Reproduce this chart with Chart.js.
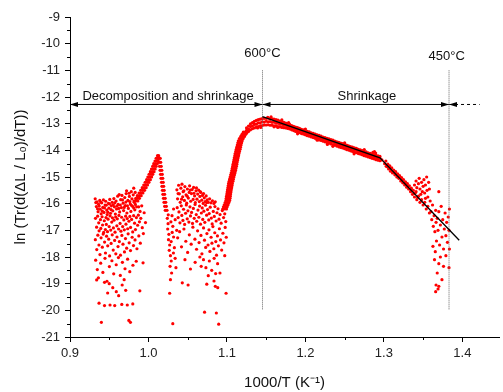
<!DOCTYPE html>
<html>
<head>
<meta charset="utf-8">
<script src="https://cdn.jsdelivr.net/npm/chart.js@4"></script>
<style>
html, body { margin: 0; padding: 0; background: #fff; overflow: hidden; }
#wrap { width: 503px; height: 392px; }
</style>
</head>
<body>
<div id="wrap"><canvas id="chart" width="503" height="392"></canvas></div>
<script>
// axis ticks
const xMajor = [0.9, 1.0, 1.1, 1.2, 1.3, 1.4];
const xMinor = [0.95, 1.05, 1.15, 1.25, 1.35];
const yMajor = [-21, -20, -19, -18, -17, -16, -15, -14, -13, -12, -11, -10, -9];
const yMinor = [-20.5, -19.5, -18.5, -17.5, -16.5, -15.5, -14.5, -13.5, -12.5, -11.5, -10.5, -9.5];

// markers: 1000/T at 600°C and 450°C
const T600 = 1.1453;
const T450 = 1.383;
const markTop = -11, markBottom = -20;
const arrowY = -12.28;
const dashEnd = 1.422;
const fitLine = [[1.1453, -12.74], [1.295, -14.28], [1.396, -17.37]];
const notes = [
    ['600°C', 1.1453, -10.38],
    ['450°C', 1.380, -10.49],
    ['Decomposition and shrinkage', 1.0249, -11.99],
    ['Shrinkage', 1.2783, -11.97]
];

// decomposition region, first cloud (0.93 - 0.99)
const leftTop = [
    [0.9321, -15.82], [0.9336, -16.11], [0.9344, -15.93], [0.9358, -16.30], [0.9363, -16.02], [0.9379, -15.88],
    [0.9385, -16.21], [0.9397, -16.38], [0.9404, -15.97], [0.9418, -16.14], [0.9426, -15.86], [0.9433, -16.33],
    [0.9447, -16.05], [0.9455, -15.91], [0.9468, -16.24], [0.9474, -16.41], [0.9489, -15.99], [0.9496, -16.17],
    [0.9507, -15.84], [0.9516, -16.36], [0.9528, -16.08], [0.9537, -15.95], [0.9545, -16.27], [0.9559, -15.81],
    [0.9566, -16.12], [0.9578, -16.39], [0.9587, -15.90], [0.9593, -16.20], [0.9608, -15.72], [0.9614, -16.03],
    [0.9627, -15.66], [0.9633, -16.31], [0.9646, -15.85], [0.9655, -16.15], [0.9662, -15.69], [0.9677, -15.98],
    [0.9683, -16.26], [0.9698, -15.77], [0.9704, -16.07], [0.9716, -15.62], [0.9725, -16.35], [0.9738, -15.88],
    [0.9744, -16.18], [0.9757, -15.73], [0.9768, -16.01], [0.9776, -16.29], [0.9789, -15.82], [0.9797, -16.10],
    [0.9806, -15.67], [0.9818, -15.95], [0.9826, -16.23], [0.9838, -15.88], [0.9849, -16.12],
    [0.9329, -15.96], [0.9351, -16.19], [0.9372, -16.09], [0.9391, -15.94], [0.9412, -16.28], [0.9439, -16.16],
    [0.9461, -16.06], [0.9482, -16.32], [0.9503, -16.01], [0.9523, -16.22], [0.9551, -16.04], [0.9572, -15.97],
    [0.9599, -16.09], [0.9621, -16.18], [0.9641, -16.05], [0.9669, -15.86], [0.9691, -16.14], [0.9712, -15.94],
    [0.9732, -16.08], [0.9762, -15.92], [0.9783, -16.06], [0.9812, -16.16], [0.9833, -16.03], [0.9781, -15.55],
    [0.9812, -15.42], [0.9831, -15.58], [0.9752, -15.61], [0.9721, -15.52]
];
const leftMid = [
    [0.9325, -16.55], [0.9339, -16.88], [0.9352, -16.47], [0.9366, -16.72], [0.9371, -17.02], [0.9388, -16.60],
    [0.9393, -16.93], [0.9409, -16.49], [0.9415, -16.80], [0.9429, -17.08], [0.9437, -16.64], [0.9451, -16.97],
    [0.9459, -16.52], [0.9463, -16.78], [0.9478, -17.05], [0.9485, -16.58], [0.9499, -16.86], [0.9511, -16.46],
    [0.9519, -16.99], [0.9532, -16.69], [0.9541, -16.53], [0.9553, -16.91], [0.9561, -16.62], [0.9574, -17.07],
    [0.9582, -16.50], [0.9597, -16.83], [0.9603, -16.57], [0.9619, -16.95], [0.9624, -16.44], [0.9638, -16.74],
    [0.9649, -17.03], [0.9658, -16.51], [0.9671, -16.86], [0.9686, -16.61], [0.9692, -16.98], [0.9709, -16.47],
    [0.9713, -16.77], [0.9729, -16.56], [0.9735, -16.94], [0.9751, -16.66], [0.9763, -16.48], [0.9772, -16.89],
    [0.9785, -16.59], [0.9799, -17.06], [0.9811, -16.45], [0.9823, -16.73], [0.9834, -16.97], [0.9846, -16.52],
    [0.9862, -16.81], [0.9871, -16.43], [0.9885, -16.68], [0.9902, -16.55], [0.9921, -16.90], [0.9875, -16.12],
    [0.9893, -16.29], [0.9914, -16.08], [0.9945, -16.34], [0.9962, -16.71]
];
const leftLow = [
    [0.9323, -17.35], [0.9341, -17.72], [0.9355, -17.18], [0.9369, -17.55], [0.9382, -17.91], [0.9396, -17.28],
    [0.9412, -17.63], [0.9423, -17.14], [0.9441, -17.44], [0.9452, -17.85], [0.9466, -17.22], [0.9481, -17.58],
    [0.9493, -17.33], [0.9505, -17.96], [0.9524, -17.49], [0.9538, -17.17], [0.9551, -17.74], [0.9569, -17.38],
    [0.9584, -17.88], [0.9599, -17.25], [0.9612, -17.61], [0.9629, -17.42], [0.9643, -17.93], [0.9661, -17.19],
    [0.9675, -17.52], [0.9694, -17.81], [0.9707, -17.31], [0.9722, -17.67], [0.9741, -17.13], [0.9754, -17.47],
    [0.9771, -17.76], [0.9792, -17.26], [0.9809, -17.57], [0.9829, -17.36], [0.9853, -17.69], [0.9877, -17.21],
    [0.9896, -17.48], [0.9935, -17.12],
    [0.9327, -18.12], [0.9348, -18.47], [0.9362, -18.78], [0.9391, -18.23], [0.9419, -18.58], [0.9446, -18.05],
    [0.9471, -18.91], [0.9502, -18.36], [0.9534, -18.14], [0.9557, -18.63], [0.9589, -18.29], [0.9617, -18.02],
    [0.9641, -18.69], [0.9668, -18.20], [0.9701, -18.44], [0.9734, -18.08], [0.9762, -18.55], [0.9802, -18.31],
    [0.9844, -18.16], [0.9931, -18.22]
];
const leftSparse = [
    [0.937, -19.73], [0.940, -20.45], [0.944, -19.82], [0.951, -19.80], [0.957, -19.82],
    [0.966, -19.78], [0.973, -19.80], [0.980, -19.76], [0.975, -20.38], [0.977, -20.45],
    [0.934, -18.86], [0.989, -19.27], [0.962, -19.45], [0.948, -19.35], [0.969, -18.85],
    [0.944, -18.95], [0.9545, -19.15], [0.959, -19.30], [0.9665, -19.05], [0.971, -19.25], [0.950, -19.00]
];

// the peak near 1.013
const peakRise = [
    [0.9815, -15.90], [0.9840, -15.90], [0.9865, -15.90], [0.9838, -15.80], [0.9862, -15.80], [0.9885, -15.80],
    [0.9858, -15.70], [0.9884, -15.70], [0.9907, -15.70], [0.9880, -15.60], [0.9905, -15.60], [0.9929, -15.60],
    [0.9901, -15.50], [0.9926, -15.50], [0.9950, -15.50], [0.9921, -15.40], [0.9947, -15.40], [0.9970, -15.40],
    [0.9940, -15.30], [0.9965, -15.30], [0.9988, -15.30], [0.9958, -15.20], [0.9983, -15.20], [1.0006, -15.20],
    [0.9976, -15.10], [1.0001, -15.10], [1.0024, -15.10], [0.9992, -15.00], [1.0017, -15.00], [1.0040, -15.00],
    [1.0008, -14.90], [1.0032, -14.90], [1.0055, -14.90], [1.0024, -14.80], [1.0048, -14.80], [1.0071, -14.80],
    [1.0038, -14.70], [1.0062, -14.70], [1.0085, -14.70], [1.0053, -14.60], [1.0076, -14.60], [1.0098, -14.60],
    [1.0067, -14.50], [1.0090, -14.50], [1.0112, -14.50], [1.0083, -14.40], [1.0104, -14.40], [1.0124, -14.40],
    [1.0098, -14.30], [1.0116, -14.30], [1.0133, -14.30], [1.0115, -14.20], [1.0130, -14.20]
];
const peakFall = [
    [1.0128, -14.30], [1.0150, -14.30], [1.0134, -14.45], [1.0156, -14.45], [1.0141, -14.60], [1.0163, -14.60],
    [1.0148, -14.75], [1.0170, -14.75], [1.0154, -14.90], [1.0176, -14.90], [1.0160, -15.05], [1.0182, -15.05],
    [1.0166, -15.20], [1.0188, -15.20], [1.0172, -15.35], [1.0194, -15.35], [1.0178, -15.50], [1.0200, -15.50],
    [1.0184, -15.65], [1.0206, -15.65], [1.0191, -15.80], [1.0213, -15.80], [1.0198, -15.95], [1.0220, -15.95],
    [1.0206, -16.10], [1.0228, -16.10], [1.0214, -16.25], [1.0236, -16.25],
    [1.0240, -16.55], [1.0250, -16.75], [1.0245, -16.95], [1.0260, -17.15], [1.0255, -17.35], [1.0270, -17.55],
    [1.0265, -17.75], [1.0280, -17.95], [1.0290, -18.15], [1.0275, -18.35], [1.0300, -16.45], [1.0310, -16.85],
    [1.0320, -17.25], [1.0330, -17.65], [1.0340, -18.05], [1.0295, -18.60], [1.0280, -18.85], [1.0270, -19.36],
    [1.0310, -20.50], [1.0350, -18.40], [1.0320, -16.20], [1.0340, -16.60], [1.0360, -17.00], [1.0252, -16.42],
    [1.0286, -16.68], [1.0302, -17.08], [1.0289, -17.42], [1.0318, -17.85]
];

// second cloud (1.036 - 1.10)
const midTop = [
    [1.0362, -15.48], [1.0371, -15.82], [1.0384, -15.31], [1.0393, -15.63], [1.0405, -15.95], [1.0413, -15.42],
    [1.0427, -15.27], [1.0436, -15.74], [1.0442, -15.55], [1.0458, -15.88], [1.0464, -15.36], [1.0479, -15.67],
    [1.0487, -15.98], [1.0496, -15.45], [1.0508, -15.79], [1.0519, -15.58], [1.0524, -15.33], [1.0538, -15.91],
    [1.0547, -15.62], [1.0556, -15.47], [1.0569, -15.84], [1.0575, -15.39], [1.0588, -15.71], [1.0597, -15.96],
    [1.0606, -15.52], [1.0618, -15.83], [1.0627, -15.64], [1.0639, -15.49], [1.0648, -15.92], [1.0655, -15.73],
    [1.0667, -15.58], [1.0679, -15.87], [1.0688, -15.69], [1.0697, -15.99], [1.0711, -15.78], [1.0723, -15.92],
    [1.0735, -15.71], [1.0748, -15.86], [1.0762, -15.95], [1.0779, -15.82], [1.0796, -15.97], [1.0815, -15.89],
    [1.0834, -15.99], [1.0851, -15.93], [1.0378, -15.62], [1.0422, -15.83], [1.0451, -15.52], [1.0493, -15.72],
    [1.0532, -15.49], [1.0579, -15.61], [1.0612, -15.41], [1.0659, -15.55], [1.0702, -15.62], [1.0741, -15.96]
];
const midMid = [
    [1.0366, -16.15], [1.0378, -16.52], [1.0389, -16.31], [1.0401, -16.72], [1.0418, -16.08], [1.0425, -16.44],
    [1.0439, -16.63], [1.0447, -16.21], [1.0461, -16.78], [1.0473, -16.36], [1.0482, -16.05], [1.0494, -16.57],
    [1.0503, -16.27], [1.0515, -16.69], [1.0529, -16.12], [1.0535, -16.46], [1.0549, -16.33], [1.0561, -16.74],
    [1.0572, -16.18], [1.0583, -16.55], [1.0594, -16.03], [1.0609, -16.41], [1.0615, -16.66], [1.0631, -16.24],
    [1.0642, -16.51], [1.0651, -16.09], [1.0663, -16.77], [1.0674, -16.35], [1.0685, -16.16], [1.0692, -16.59],
    [1.0706, -16.28], [1.0718, -16.70], [1.0727, -16.06], [1.0741, -16.43], [1.0753, -16.22], [1.0768, -16.61],
    [1.0774, -16.37], [1.0787, -16.13], [1.0801, -16.54], [1.0812, -16.76], [1.0826, -16.29], [1.0839, -16.48],
    [1.0847, -16.11], [1.0862, -16.65], [1.0873, -16.34], [1.0886, -16.19], [1.0899, -16.58], [1.0912, -16.41],
    [1.0926, -16.73], [1.0941, -16.26], [1.0957, -16.52], [1.0972, -16.38], [1.0985, -16.67]
];
const midLow = [
    [1.0372, -17.28], [1.0397, -17.05], [1.0421, -17.62], [1.0452, -16.95], [1.0476, -17.41], [1.0499, -17.83],
    [1.0521, -17.17], [1.0544, -17.52], [1.0566, -16.88], [1.0592, -17.33], [1.0613, -17.71], [1.0626, -17.02],
    [1.0645, -17.46], [1.0669, -17.19], [1.0681, -17.88], [1.0702, -16.91], [1.0714, -17.37], [1.0729, -17.64],
    [1.0745, -17.12], [1.0759, -17.55], [1.0771, -16.98], [1.0783, -17.79], [1.0798, -17.26], [1.0809, -17.48],
    [1.0821, -16.86], [1.0833, -17.69], [1.0845, -17.09], [1.0858, -17.42], [1.0867, -17.93], [1.0879, -17.21],
    [1.0891, -17.58], [1.0904, -16.94], [1.0918, -17.36], [1.0933, -17.74], [1.0948, -17.11], [1.0962, -17.47],
    [1.0978, -16.89], [1.0991, -17.26],
    [1.0431, -18.97], [1.0465, -18.10], [1.0505, -19.05], [1.0535, -18.45], [1.0595, -18.20], [1.0655, -18.00],
    [1.0672, -18.35], [1.0701, -18.10], [1.0732, -18.40], [1.0762, -18.70], [1.0776, -18.15], [1.0806, -18.50],
    [1.0837, -18.05], [1.0835, -18.90], [1.0852, -19.10], [1.0881, -18.25], [1.0883, -19.15], [1.0911, -18.60],
    [1.0972, -17.95], [1.0989, -19.36], [1.0856, -18.62], [1.0743, -19.02],
    [1.0715, -20.07], [1.0865, -20.10], [1.0895, -20.52]
];

// steep rise 1.095 - 1.125 (y, left, centre, right)
const riseY = [
    -16.20, -16.12, -16.04, -15.96, -15.88, -15.80, -15.72, -15.64, -15.56, -15.48, -15.40, -15.32, -15.24,
    -15.16, -15.08, -15.00, -14.92, -14.84, -14.76, -14.68, -14.60, -14.52, -14.44, -14.36, -14.28, -14.20,
    -14.12, -14.04, -13.96, -13.88, -13.80, -13.72, -13.64, -13.56, -13.48, -13.40, -13.32
];
const riseL = [
    1.0946, 1.0956, 1.0966, 1.0977, 1.0987, 1.0991, 1.0995, 1.0999, 1.1003, 1.1007, 1.1012, 1.1017, 1.1021,
    1.1028, 1.1034, 1.1041, 1.1048, 1.1055, 1.1062, 1.1067, 1.1073, 1.1078, 1.1083, 1.1089, 1.1094, 1.1100,
    1.1105, 1.1112, 1.1119, 1.1125, 1.1132, 1.1139, 1.1146, 1.1159, 1.1176, 1.1192, 1.1209
];
const riseC = [
    1.0969, 1.0981, 1.0989, 1.1002, 1.1010, 1.1016, 1.1018, 1.1024, 1.1026, 1.1032, 1.1035, 1.1042, 1.1044,
    1.1053, 1.1057, 1.1066, 1.1071, 1.1080, 1.1085, 1.1092, 1.1096, 1.1103, 1.1106, 1.1114, 1.1117, 1.1125,
    1.1128, 1.1137, 1.1142, 1.1150, 1.1155, 1.1164, 1.1169, 1.1184, 1.1199, 1.1217, 1.1232
];
const riseR = [
    1.0994, 1.1003, 1.1014, 1.1025, 1.1035, 1.1039, 1.1043, 1.1047, 1.1051, 1.1055, 1.1060, 1.1065, 1.1069,
    1.1076, 1.1082, 1.1089, 1.1096, 1.1103, 1.1110, 1.1115, 1.1121, 1.1126, 1.1131, 1.1137, 1.1142, 1.1148,
    1.1153, 1.1160, 1.1167, 1.1173, 1.1180, 1.1187, 1.1194, 1.1207, 1.1224, 1.1240, 1.1257
];

// shrinkage band 1.125 - 1.295
const bandX = [
    1.125, 1.1275, 1.13, 1.1325, 1.135, 1.1375, 1.14, 1.1425, 1.145, 1.1475,
    1.15, 1.1525, 1.155, 1.1575, 1.16, 1.1625, 1.165, 1.1675, 1.17, 1.1725,
    1.175, 1.1775, 1.18, 1.1825, 1.185, 1.1875, 1.19, 1.1925, 1.195, 1.1975,
    1.2, 1.2025, 1.205, 1.2075, 1.21, 1.2125, 1.215, 1.2175, 1.22, 1.2225,
    1.225, 1.2275, 1.23, 1.2325, 1.235, 1.2375, 1.24, 1.2425, 1.245, 1.2475,
    1.25, 1.2525, 1.255, 1.2575, 1.26, 1.2625, 1.265, 1.2675, 1.27, 1.2725,
    1.275, 1.2775, 1.28, 1.2825, 1.285, 1.2875, 1.29, 1.2925, 1.295
];
const bandMid = [
    -13.25, -13.20, -13.11, -13.09, -13.03, -13.02, -12.97, -12.97, -12.93, -12.94,
    -12.91, -12.93, -12.92, -12.95, -12.94, -12.98, -12.98, -13.02, -13.02, -13.06,
    -13.06, -13.10, -13.11, -13.16, -13.17, -13.22, -13.22, -13.27, -13.28, -13.32,
    -13.33, -13.38, -13.38, -13.43, -13.43, -13.48, -13.49, -13.53, -13.54, -13.59,
    -13.59, -13.64, -13.64, -13.69, -13.69, -13.74, -13.75, -13.79, -13.80, -13.84,
    -13.85, -13.89, -13.90, -13.95, -13.95, -14.00, -14.00, -14.05, -14.05, -14.10,
    -14.11, -14.15, -14.16, -14.20, -14.21, -14.25, -14.26, -14.30, -14.30
];
const bandHi = [
    -13.16, -13.09, -13.01, -12.96, -12.91, -12.88, -12.85, -12.83, -12.81, -12.80,
    -12.80, -12.79, -12.81, -12.82, -12.83, -12.85, -12.87, -12.90, -12.93, -12.95,
    -12.98, -13.00, -13.03, -13.07, -13.10, -13.13, -13.15, -13.18, -13.21, -13.23,
    -13.26, -13.29, -13.31, -13.34, -13.36, -13.39, -13.42, -13.44, -13.47, -13.50,
    -13.52, -13.55, -13.57, -13.60, -13.62, -13.65, -13.68, -13.70, -13.73, -13.75,
    -13.78, -13.80, -13.83, -13.86, -13.88, -13.91, -13.93, -13.96, -13.98, -14.01,
    -14.04, -14.06, -14.09, -14.11, -14.14, -14.16, -14.19, -14.21, -14.23
];
const bandLo = [
    -13.35, -13.29, -13.23, -13.19, -13.16, -13.13, -13.11, -13.08, -13.07, -13.05,
    -13.05, -13.04, -13.06, -13.06, -13.08, -13.09, -13.11, -13.12, -13.14, -13.15,
    -13.16, -13.18, -13.20, -13.23, -13.26, -13.29, -13.31, -13.34, -13.37, -13.39,
    -13.42, -13.45, -13.47, -13.50, -13.52, -13.55, -13.58, -13.61, -13.63, -13.66,
    -13.68, -13.71, -13.73, -13.76, -13.79, -13.81, -13.84, -13.87, -13.89, -13.91,
    -13.94, -13.97, -13.99, -14.02, -14.04, -14.07, -14.09, -14.12, -14.14, -14.17,
    -14.20, -14.22, -14.25, -14.27, -14.30, -14.32, -14.35, -14.37, -14.39
];
const bandExtra = [
    [1.2880, -14.05], [1.2895, -14.10], [1.2860, -14.08], [1.170, -12.86], [1.200, -13.20],
    [1.215, -13.62], [1.235, -13.85], [1.250, -13.72], [1.262, -14.13], [1.275, -13.97],
    [1.228, -13.78], [1.190, -13.38], [1.160, -13.12], [1.143, -13.14], [1.152, -12.76],
    [1.1338, -12.97], [1.1391, -13.16], [1.1562, -12.74], [1.1648, -13.14], [1.1786, -12.96]
];

// tail 1.30 - 1.385
const tailCloud = [
    [1.2975, -14.36], [1.3025, -14.40], [1.3030, -14.60], [1.3050, -14.52], [1.3060, -14.70], [1.3075, -14.58],
    [1.3085, -14.78], [1.3100, -14.66], [1.3110, -14.85], [1.3125, -14.74], [1.3140, -14.92], [1.3150, -14.80],
    [1.3165, -15.00], [1.3175, -14.88], [1.3190, -15.05], [1.3200, -14.95], [1.3215, -15.15], [1.3225, -15.02],
    [1.3240, -15.22], [1.3250, -15.10], [1.3265, -15.30], [1.3275, -15.18], [1.3290, -15.38], [1.3300, -15.25],
    [1.3315, -15.45], [1.3325, -15.33], [1.3340, -15.55], [1.3350, -15.42], [1.3365, -15.65], [1.3375, -15.50],
    [1.3390, -15.75], [1.3400, -15.60], [1.3420, -15.85], [1.3440, -15.72], [1.3460, -15.95], [1.3480, -15.85],
    [1.3500, -16.05], [1.3520, -15.95], [1.3540, -16.20], [1.3560, -16.10], [1.3580, -16.35],
    [1.3010, -14.50], [1.3045, -14.62], [1.3080, -14.68], [1.3120, -14.83], [1.3160, -14.90], [1.3195, -14.98],
    [1.3230, -15.12], [1.3270, -15.24], [1.3310, -15.35], [1.3345, -15.48], [1.3380, -15.62], [1.3430, -15.78],
    [1.3390, -15.30], [1.3410, -15.15], [1.3420, -15.40], [1.3440, -15.25], [1.3450, -15.05], [1.3460, -15.45],
    [1.3480, -15.20], [1.3490, -15.55], [1.3500, -15.35], [1.3510, -15.10], [1.3520, -15.60], [1.3530, -15.30],
    [1.3545, -15.00], [1.3550, -15.50], [1.3560, -15.75], [1.3570, -15.20], [1.3580, -15.45], [1.3590, -15.90],
    [1.3410, -15.55], [1.3470, -15.65], [1.3530, -15.80],
    [1.3600, -16.30], [1.3610, -16.60], [1.3620, -16.05], [1.3630, -16.85], [1.3640, -16.45], [1.3650, -17.05],
    [1.3660, -16.25], [1.3665, -16.70], [1.3670, -17.40], [1.3680, -16.55], [1.3690, -17.00], [1.3700, -15.55],
    [1.3700, -16.30], [1.3710, -17.55], [1.3720, -16.80], [1.3730, -16.10], [1.3740, -17.25], [1.3750, -16.60],
    [1.3760, -17.70], [1.3770, -16.95], [1.3780, -16.35], [1.3790, -17.20], [1.3800, -16.70], [1.3810, -17.45],
    [1.3820, -16.50], [1.3830, -17.00], [1.3835, -16.20], [1.3625, -17.60], [1.3655, -17.80], [1.3645, -18.10],
    [1.3700, -18.25], [1.3720, -18.00], [1.3760, -18.35], [1.3790, -17.95], [1.3680, -18.60], [1.3740, -18.85],
    [1.3665, -19.05], [1.3690, -19.20], [1.3660, -19.30], [1.3700, -19.10], [1.3835, -17.70], [1.3830, -18.40]
];

// build the point table
const pts = [];
const addPairs = list => list.forEach(([x, y]) => pts.push({ x, y }));
[leftTop, leftMid, leftLow, leftSparse, peakRise, peakFall, midTop, midMid, midLow, bandExtra, tailCloud].forEach(addPairs);
riseY.forEach((y, i) => {
    pts.push({ x: riseL[i], y });
    pts.push({ x: riseC[i], y });
    pts.push({ x: riseR[i], y });
});
bandX.forEach((x, i) => {
    pts.push({ x, y: bandHi[i] });
    pts.push({ x, y: bandMid[i] });
    pts.push({ x, y: bandLo[i] });
});

const seg = (a, b) => [{ x: a[0], y: a[1] }, { x: b[0], y: b[1] }];
const lineSet = (data, extra) => Object.assign({
    data, showLine: true, pointRadius: 0, borderColor: '#000', borderWidth: 1, order: 0
}, extra || {});

// minor ticks, arrow heads and notes
const annotate = {
    id: 'annotate',
    afterDatasetsDraw(chart) {
        const { ctx, chartArea: a, scales: { x, y } } = chart;
        ctx.save();
        ctx.strokeStyle = '#000';
        ctx.lineWidth = 1;
        ctx.beginPath();
        xMinor.forEach(v => {
            const px = Math.round(x.getPixelForValue(v)) + 0.5;
            ctx.moveTo(px, a.bottom); ctx.lineTo(px, a.bottom + 3);
        });
        yMinor.forEach(v => {
            const py = Math.round(y.getPixelForValue(v)) + 0.5;
            ctx.moveTo(a.left - 3, py); ctx.lineTo(a.left, py);
        });
        ctx.stroke();

        ctx.fillStyle = '#000';
        const py = y.getPixelForValue(arrowY);
        const head = (v, dir) => {
            const px = x.getPixelForValue(v);
            ctx.beginPath();
            ctx.moveTo(px, py);
            ctx.lineTo(px - dir * 8, py - 2.5);
            ctx.lineTo(px - dir * 8, py + 2.5);
            ctx.closePath();
            ctx.fill();
        };
        head(0.9, -1); head(T600, 1);
        head(T600, -1); head(T450, 1);
        head(T450, -1);

        ctx.fillStyle = '#111';
        ctx.font = '13px "Liberation Sans", Arial, sans-serif';
        ctx.textAlign = 'center';
        ctx.textBaseline = 'middle';
        notes.forEach(([t, vx, vy]) => ctx.fillText(t, x.getPixelForValue(vx), y.getPixelForValue(vy)));
        ctx.restore();
    }
};

Chart.defaults.font.family = '"Liberation Sans", Arial, sans-serif';
Chart.defaults.color = '#222';

new Chart(document.getElementById('chart'), {
    type: 'scatter',
    data: {
        datasets: [
            lineSet(fitLine.map(([x, y]) => ({ x, y })), { borderWidth: 1.3 }),
            lineSet(seg([T600, markTop], [T600, markBottom]), { borderColor: '#666', borderDash: [1, 1] }),
            lineSet(seg([T450, markTop], [T450, markBottom]), { borderColor: '#666', borderDash: [1, 1] }),
            lineSet(seg([0.9, arrowY], [T600, arrowY])),
            lineSet(seg([T600, arrowY], [T450, arrowY])),
            lineSet(seg([T450, arrowY], [dashEnd, arrowY]), { borderDash: [3, 3] }),
            {
                data: pts,
                pointRadius: 1.6,
                pointBackgroundColor: '#ff0000',
                pointBorderWidth: 0,
                order: 10
            }
        ]
    },
    options: {
        responsive: false,
        animation: false,
        events: [],
        layout: { padding: { top: 17, right: 0, bottom: 0, left: 0 } },
        plugins: { legend: { display: false }, tooltip: { enabled: false } },
        scales: {
            x: {
                type: 'linear',
                min: 0.9,
                max: 1.4467,
                afterFit: s => { s.height = 55; },
                afterBuildTicks: s => { s.ticks = xMajor.map(v => ({ value: v })); },
                ticks: { font: { size: 13 }, padding: 4, color: '#222', callback: v => v.toFixed(1), maxRotation: 0 },
                grid: { drawOnChartArea: false, tickLength: 5, tickColor: '#000' },
                border: { display: true, color: '#000', width: 1 },
                title: { display: true, text: '1000/T (K⁻¹)', font: { size: 15 }, color: '#111', padding: { top: 0, bottom: 0 } }
            },
            y: {
                type: 'linear',
                min: -21,
                max: -9,
                afterFit: s => { s.width = 70; },
                afterBuildTicks: s => { s.ticks = yMajor.map(v => ({ value: v })); },
                ticks: { font: { size: 13 }, padding: 5, color: '#222', callback: v => String(v) },
                grid: { drawOnChartArea: false, tickLength: 5, tickColor: '#000' },
                border: { display: true, color: '#000', width: 1 },
                title: { display: true, text: 'ln (Tr(d(ΔL / L₀)/dT))', font: { size: 15 }, color: '#111', padding: { top: 12, bottom: 0 } }
            }
        }
    },
    plugins: [annotate]
});
</script>
</body>
</html>
